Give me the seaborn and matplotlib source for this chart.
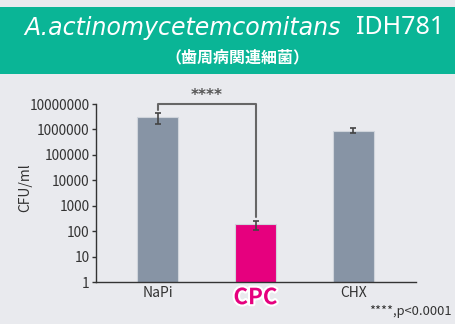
import matplotlib
matplotlib.use("Agg")
import matplotlib.pyplot as plt
import matplotlib.patheffects as pe
from matplotlib.patches import Rectangle
from matplotlib.ticker import FixedLocator, NullLocator
import numpy as np
import pandas as pd
import seaborn as sns

# Viable counts after treatment (CFU/ml), mean and SD
groups = ["NaPi", "CPC", "CHX"]
cfu_mean = [3000000, 185, 900000]
cfu_sd = [1400000, 75, 200000]
bar_colors = ["#8794a5", "#e6007e", "#8794a5"]
y_ticks = [1, 10, 100, 1000, 10000, 100000, 1000000, 10000000]
y_tick_labels = ["1", "10", "100", "1000", "10000", "100000", "1000000", "10000000"]

BG = "#e9eaee"
TEAL = "#0ab596"
DARK = "#333333"

sns.set_theme(style="white")
plt.rcParams["font.family"] = ["Noto Sans CJK JP", "DejaVu Sans"]

df = pd.DataFrame({"group": groups, "cfu": cfu_mean})

fig = plt.figure(figsize=(4.55, 3.24), dpi=100, facecolor=BG)
ax = fig.add_axes([96 / 455, 1 - 282 / 324, 320 / 455, 178 / 324])
ax.set_facecolor(BG)

sns.barplot(data=df, x="group", y="cfu", hue="group", palette=bar_colors,
            legend=False, width=0.42, edgecolor="#cfd4db", linewidth=0.8,
            ax=ax, errorbar=None, saturation=1)
ax.set_yscale("log")
ax.errorbar(np.arange(len(groups)), cfu_mean, yerr=cfu_sd, fmt="none",
            ecolor="#444444", elinewidth=1.2, capsize=2.2, capthick=1.2, zorder=5)

ax.set_ylim(1, 1e7)
ax.set_xlim(-0.63, 2.64)
ax.yaxis.set_major_locator(FixedLocator(y_ticks))
ax.yaxis.set_minor_locator(NullLocator())
ax.set_yticklabels(y_tick_labels)
ax.tick_params(axis="y", length=3, width=1, color=DARK, pad=1.5,
               labelsize=9.8, labelcolor=DARK, left=True)
ax.tick_params(axis="x", length=0, pad=3, labelsize=10, labelcolor=DARK)

for side in ["top", "right"]:
    ax.spines[side].set_visible(False)
for side in ["left", "bottom"]:
    ax.spines[side].set_color(DARK)
    ax.spines[side].set_linewidth(1.0)

ax.set_xlabel("")
ax.set_ylabel("CFU/ml", fontsize=10, color=DARK)
ax.yaxis.set_label_coords(-0.2, 0.53)

# Highlight the CPC group label
for lab in ax.get_xticklabels():
    if lab.get_text() == "CPC":
        lab.set_fontsize(16)
        lab.set_fontweight("bold")
        lab.set_color("#e6007e")
        lab.set_path_effects([pe.withStroke(linewidth=3, foreground="white")])

# Significance bracket NaPi vs CPC
bx = [0, 0, 1, 1]
by = [5.6e6, 9.6e6, 9.6e6, 360]
ax.plot(bx, by, color="#666666", lw=1.5, clip_on=False, zorder=6)
ax.text(0.5, 1.1e7, "****", ha="center", va="bottom", fontsize=11,
        color="#555555", clip_on=False, family=["DejaVu Sans"],
        fontweight="bold")

# Header band
fig.patches.append(Rectangle((0, 1 - 74 / 324), 1, 67 / 324,
                             transform=fig.transFigure, facecolor=TEAL,
                             edgecolor="none", zorder=0))
fig.text(341 / 455, 1 - 28 / 324, "A.actinomycetemcomitans", ha="right",
         va="center", fontsize=17, style="italic",
         color="white", family=["DejaVu Sans"])
fig.text(356 / 455, 1 - 28 / 324, "IDH781", ha="left", va="center",
         fontsize=18, color="white", family=["Noto Sans", "DejaVu Sans"])
fig.text(237 / 455, 1 - 57 / 324, "（歯周病関連細菌）", ha="center", va="center",
         fontsize=11.5, fontweight="bold", color="white")

fig.text(452 / 455, 1 - 311 / 324, "****,p<0.0001", ha="right", va="center",
         fontsize=9.3, color=DARK)

fig.savefig("out.png", dpi=100, facecolor=BG)
